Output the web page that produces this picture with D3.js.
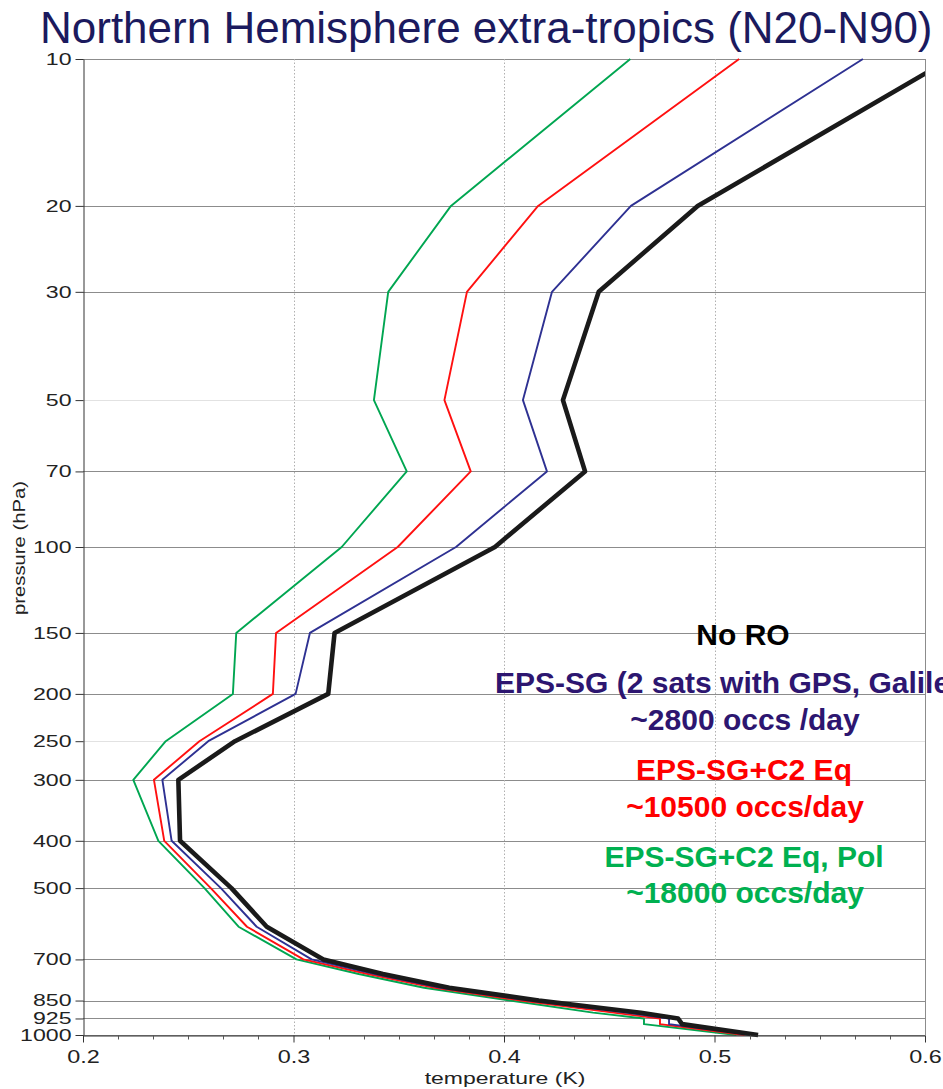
<!DOCTYPE html>
<html>
<head>
<meta charset="utf-8">
<script src="https://cdn.jsdelivr.net/npm/d3@7"></script>
<style>
  body { margin: 0; background: #fff; }
  svg { display: block; font-family: "Liberation Sans", Arial, Helvetica, sans-serif; }
</style>
</head>
<body>
<div id="chart"></div>
<script>
// pressure levels (hPa) and temperature error (K) per experiment
var pressure   = [10, 20, 30, 50, 70, 100, 150, 200, 250, 300, 400, 500, 600, 700, 750, 800, 850, 900, 925, 950, 1000];
var noRO       = [0.612, 0.492, 0.445, 0.428, 0.4385, 0.3957, 0.3195, 0.3165, 0.2722, 0.2453, 0.2461, 0.2705, 0.2873, 0.3142, 0.3425, 0.374, 0.4165, 0.465, 0.4827, 0.4846, 0.5207];
var epsSG      = [0.5705, 0.4603, 0.4228, 0.409, 0.4204, 0.3772, 0.3078, 0.301, 0.2595, 0.2377, 0.2421, 0.2655, 0.2825, 0.3086, 0.3387, 0.370, 0.412, 0.458, 0.4784, 0.4784, 0.518];
var epsC2Eq    = [0.5117, 0.4162, 0.3824, 0.3717, 0.3842, 0.3495, 0.2917, 0.2902, 0.2553, 0.2337, 0.2386, 0.2607, 0.2779, 0.3047, 0.3354, 0.3672, 0.408, 0.452, 0.4741, 0.4741, 0.5143];
var epsC2EqPol = [0.46, 0.3748, 0.345, 0.3382, 0.3538, 0.3229, 0.2728, 0.2712, 0.2393, 0.2239, 0.2358, 0.2577, 0.2739, 0.3014, 0.331, 0.362, 0.4029, 0.4423, 0.4665, 0.4665, 0.5104];

var yTicks = [10, 20, 30, 50, 70, 100, 150, 200, 250, 300, 400, 500, 700, 850, 925, 1000];
var xTicks = [0.2, 0.3, 0.4, 0.5, 0.6];
var xGrid  = [0.3, 0.4, 0.5];

var wi = 943, he = 1089;
// plot box edges
var pL = 83, pR = 925, pT = 59, pB = 1035;

var svg = d3.select("#chart").append("svg")
  .attr("width", wi)
  .attr("height", he);

var x = d3.scaleLinear().domain([0.2, 0.6]).range([pL, pR]);
var y = d3.scaleLog().domain([10, 1000]).range([pT, pB]);

function px(v) { return Math.round(v) + 0.5; }

// horizontal grid at each labelled level
svg.append("g").selectAll("line")
  .data(yTicks)
  .enter().append("line")
  .attr("x1", pL).attr("x2", pR)
  .attr("y1", function(d) { return px(y(d)); })
  .attr("y2", function(d) { return px(y(d)); })
  .attr("stroke", function(d) { return (d == 50 || d == 250) ? "#e2e2e2" : "#8c8c8c"; })
  .attr("stroke-width", 1);

// dotted vertical grid
svg.append("g").selectAll("line")
  .data(xGrid)
  .enter().append("line")
  .attr("x1", function(d) { return px(x(d)); })
  .attr("x2", function(d) { return px(x(d)); })
  .attr("y1", pT).attr("y2", pB)
  .attr("stroke", "#b0b0b0")
  .attr("stroke-dasharray", "1.5,2")
  .attr("stroke-width", 1);

// right frame
svg.append("line")
  .attr("x1", px(pR)).attr("x2", px(pR))
  .attr("y1", pT).attr("y2", pB)
  .attr("stroke", "#8c8c8c");

// clip for profiles
svg.append("clipPath").attr("id", "plotclip")
  .append("rect").attr("x", pL).attr("y", pT - 2)
  .attr("width", pR - pL).attr("height", pB - pT + 6);

var series = [
  { vals: epsC2EqPol, color: "#00a651", w: 1.9 },
  { vals: epsC2Eq,    color: "#ff1010", w: 1.9 },
  { vals: epsSG,      color: "#2e3192", w: 1.9 },
  { vals: noRO,       color: "#1a1a1a", w: 4.6 }
];

var line = d3.line()
  .x(function(d) { return x(d[1]); })
  .y(function(d) { return y(d[0]); });

svg.append("g").attr("clip-path", "url(#plotclip)")
  .selectAll("path")
  .data(series)
  .enter().append("path")
  .attr("d", function(s) { return line(pressure.map(function(p, i) { return [p, s.vals[i]]; })); })
  .attr("fill", "none")
  .attr("stroke", function(s) { return s.color; })
  .attr("stroke-width", function(s) { return s.w; })
  .attr("stroke-linejoin", "round");

// left axis
var yAxis = svg.append("g")
  .attr("transform", "translate(" + px(pL) + ",0)")
  .call(d3.axisLeft(y).tickValues(yTicks).tickFormat(d3.format("d"))
        .tickSize(8).tickSizeOuter(0).tickPadding(4));
yAxis.select(".domain").attr("stroke", "#333");
yAxis.selectAll(".tick line").attr("stroke", "#333");
yAxis.selectAll(".tick text")
  .attr("font-size", "16.5px")
  .attr("fill", "#222")
  .attr("font-family", "Liberation Sans, Arial, sans-serif")
  .attr("class", "stretch").attr("data-k", 1.4);

// bottom axis
var xAxis = svg.append("g")
  .attr("transform", "translate(0," + px(pB) + ")")
  .call(d3.axisBottom(x).tickValues(xTicks).tickFormat(d3.format(".1f"))
        .tickSize(7).tickSizeOuter(0).tickPadding(8));
xAxis.select(".domain").attr("stroke", "#333");
xAxis.selectAll(".tick line").attr("stroke", "#333");
xAxis.selectAll(".tick text")
  .attr("font-size", "18px")
  .attr("fill", "#222")
  .attr("font-family", "Liberation Sans, Arial, sans-serif")
  .attr("class", "stretch").attr("data-k", 1.3);

// minor ticks every 1/60 K
var minor = d3.range(0, 25).filter(function(k) { return k % 6 != 0; })
  .map(function(k) { return 0.2 + k / 60; });
svg.append("g").selectAll("line")
  .data(minor)
  .enter().append("line")
  .attr("x1", function(d) { return px(x(d)); })
  .attr("x2", function(d) { return px(x(d)); })
  .attr("y1", px(pB)).attr("y2", px(pB) + 4)
  .attr("stroke", "#555");

// axis titles
svg.append("text")
  .attr("x", 505).attr("y", 1084)
  .attr("text-anchor", "middle")
  .attr("font-size", "17px")
  .attr("fill", "#222")
  .attr("class", "stretch").attr("data-k", 1.35)
  .text("temperature (K)");

svg.append("text")
  .attr("transform", "translate(25,548) rotate(-90)")
  .attr("text-anchor", "middle")
  .attr("font-size", "17px")
  .attr("fill", "#222")
  .attr("class", "stretch").attr("data-k", 1.19)
  .text("pressure (hPa)");

// title
svg.append("text")
  .attr("x", 40).attr("y", 43)
  .attr("font-size", "44px")
  .attr("fill", "#1b1a5e")
  .text("Northern Hemisphere extra-tropics (N20-N90)");

// experiment labels
var notes = [
  { t: "No RO",                             x: 743, y: 645, c: "#000000", a: "middle" },
  { t: "EPS-SG (2 sats with GPS, Galileo)", x: 495, y: 693, c: "#2d1670", a: "start" },
  { t: "~2800 occs /day",                   x: 745, y: 730, c: "#2d1670", a: "middle" },
  { t: "EPS-SG+C2 Eq",                      x: 744, y: 780, c: "#ff0000", a: "middle" },
  { t: "~10500 occs/day",                   x: 745, y: 817, c: "#ff0000", a: "middle" },
  { t: "EPS-SG+C2 Eq, Pol",                 x: 744, y: 867, c: "#00b050", a: "middle" },
  { t: "~18000 occs/day",                   x: 745, y: 903, c: "#00b050", a: "middle" }
];
svg.append("g").selectAll("text")
  .data(notes)
  .enter().append("text")
  .attr("x", function(d) { return d.x; })
  .attr("y", function(d) { return d.y; })
  .attr("text-anchor", function(d) { return d.a; })
  .attr("font-size", "30px")
  .attr("font-weight", "bold")
  .attr("fill", function(d) { return d.c; })
  .text(function(d) { return d.t; });

// widen plot-software labels like the source image
svg.selectAll(".stretch").each(function() {
  var k = +this.getAttribute("data-k");
  var len = this.getComputedTextLength();
  d3.select(this).attr("textLength", len * k).attr("lengthAdjust", "spacingAndGlyphs");
});
</script>
</body>
</html>
